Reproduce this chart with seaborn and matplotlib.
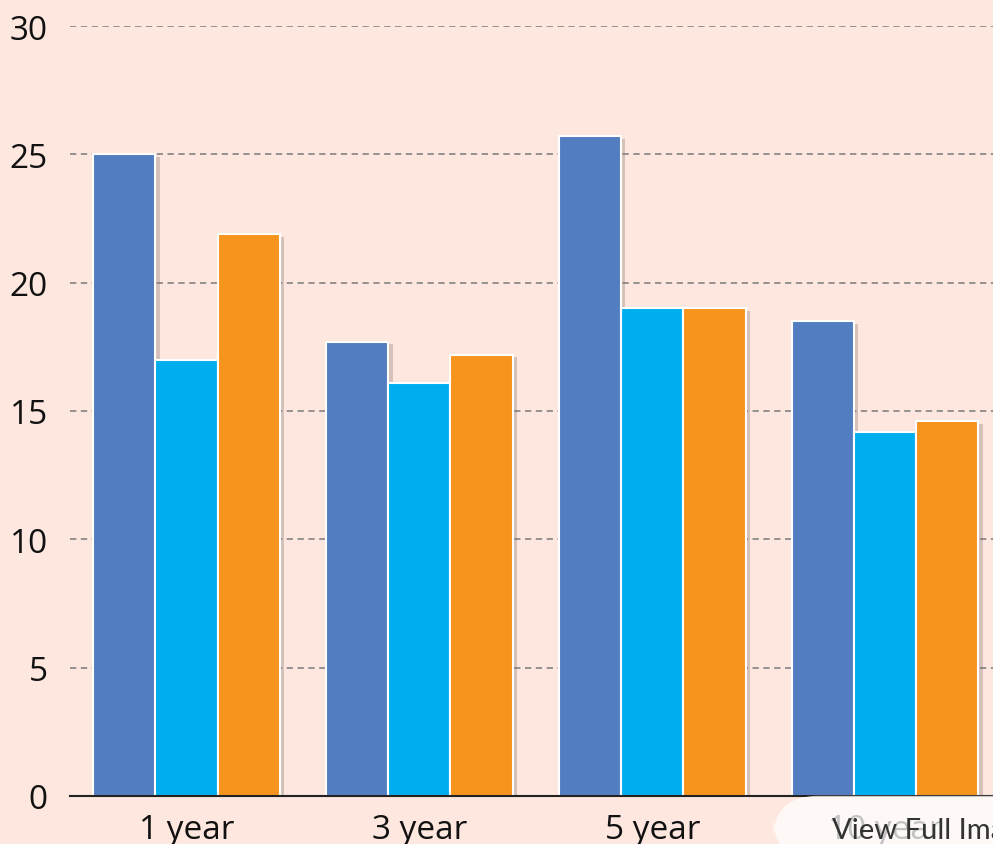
import matplotlib
matplotlib.use("Agg")
import matplotlib.pyplot as plt
import matplotlib.patheffects as pe
from matplotlib.patches import FancyBboxPatch
import seaborn as sns
import pandas as pd

# values
periods = ["1 year", "3 year", "5 year", "10 year"]
series_names = ["A", "B", "C"]
series_a = [25.0, 17.7, 25.7, 18.5]
series_b = [17.0, 16.1, 19.0, 14.2]
series_c = [21.9, 17.2, 19.0, 14.6]
colors = ["#527dc0", "#00aeef", "#f7941d"]
bg = "#fde7de"

rows = []
for name, vals in zip(series_names, [series_a, series_b, series_c]):
    for p, v in zip(periods, vals):
        rows.append({"period": p, "series": name, "value": v})
df = pd.DataFrame(rows)

sns.set_theme(style="white")
plt.rcParams["font.family"] = ["Open Sans", "DejaVu Sans"]

fig = plt.figure(figsize=(9.93, 8.45), dpi=100, facecolor=bg)
ax = fig.add_axes([70 / 993, 48 / 845, (1053 - 70) / 993, 770 / 845])
ax.set_facecolor(bg)

sns.barplot(data=df, x="period", y="value", hue="series", palette=colors,
            width=0.8, edgecolor="white", linewidth=1.5, saturation=1,
            ax=ax, zorder=3)
ax.legend_.remove()

shadow = [pe.SimplePatchShadow(offset=(3, -2), shadow_rgbFace="#7a6a66", alpha=0.3),
          pe.Normal()]
for bar in ax.patches:
    bar.set_path_effects(shadow)

ax.set_ylim(0, 30)
ax.set_xlim(-0.5, 3.72)
ax.set_yticks([0, 5, 10, 15, 20, 25, 30])
for y in [5, 10, 15, 20, 25, 30]:
    ax.axhline(y, color="#8e8a8a", lw=1.3, ls=(0, (3.5, 2.5)), zorder=1)

for s in ["left", "right", "top"]:
    ax.spines[s].set_visible(False)
ax.spines["bottom"].set_color("#222222")
ax.spines["bottom"].set_linewidth(1.5)
ax.spines["bottom"].set_zorder(4)

ax.tick_params(axis="y", length=0, pad=16, labelsize=24, labelcolor="#111111")
ax.tick_params(axis="x", length=0, pad=12, labelsize=24, labelcolor="#111111")
ax.set_xlabel("")
ax.set_ylabel("")

# "View Full Image" overlay button in the lower right corner
btn = FancyBboxPatch((773 / 993, -0.02), 0.3, 0.077,
                     boxstyle="round,pad=0,rounding_size=0.045",
                     transform=fig.transFigure, facecolor="white",
                     edgecolor="none", alpha=0.75, zorder=10,
                     mutation_aspect=993 / 845)
fig.patches.append(btn)
fig.text(832 / 993, 6 / 845, "View Full Image", fontsize=21,
         family=["Lato", "DejaVu Sans"], color="#333333", zorder=11)

fig.savefig("out.png", dpi=100, facecolor=bg)
